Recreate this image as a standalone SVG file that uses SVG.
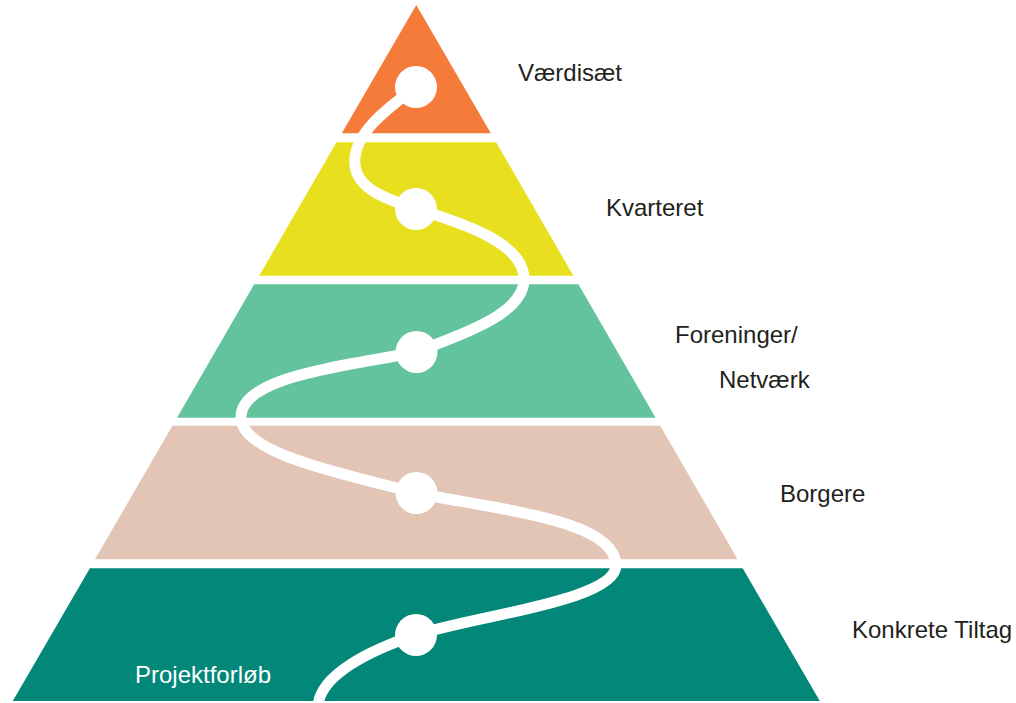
<svg xmlns="http://www.w3.org/2000/svg" width="1016" height="703" viewBox="0 0 1016 703">
<style>
.lbl{font-family:"Liberation Sans",Arial,sans-serif;font-size:24px;fill:#231F20}
.wl{font-family:"Liberation Sans",Arial,sans-serif;font-size:24px;fill:#FFFFFF}
.route{fill:none;stroke:#FFFFFF;stroke-width:11;stroke-linecap:butt}
.dot{fill:#FFFFFF}
</style>
<rect width="1016" height="703" fill="#FFFFFF"/>
<g id="vaerdisaet">
<polygon points="416.3,5 490.8,133.3 341.8,133.3" fill="#F47B3A"/>
<text class="lbl" x="518" y="81">Værdisæt</text>
</g>
<g id="kvarteret">
<polygon points="336.5,142.3 496.1,142.3 573.4,275.7 259.2,275.7" fill="#E8DF1E"/>
<text class="lbl" x="606" y="216">Kvarteret</text>
</g>
<g id="foreninger">
<polygon points="254.2,284.3 578.4,284.3 655.6,417.7 177.0,417.7" fill="#63C39D"/>
<text class="lbl" x="675" y="343">Foreninger/</text>
<text class="lbl" x="719" y="388">Netværk</text>
</g>
<g id="borgere">
<polygon points="172.4,425.7 660.2,425.7 737.6,559.3 95.0,559.3" fill="#E3C5B6"/>
<text class="lbl" x="780" y="502">Borgere</text>
</g>
<g id="konkrete">
<polygon points="89.9,568.3 742.7,568.3 819.8,701 12.8,701" fill="#038778"/>
<text class="lbl" x="852" y="638">Konkrete Tiltag</text>
</g>
<g id="connectors">
<path class="route" d="M416,87 C385,110 352,135 355,165 C357,190 390,200 416,209 C470,225 525,245 524,280 C523,315 460,335 416,352 C350,366 240,375 241,418 C242,455 350,475 416,493 C500,510 615,520 616,565 C617,600 480,615 416,635 C370,650 320,675 318,706"/>
<circle class="dot" cx="416" cy="87" r="21"/>
<circle class="dot" cx="416" cy="209" r="21"/>
<circle class="dot" cx="416.5" cy="352" r="21"/>
<circle class="dot" cx="416.5" cy="493" r="21"/>
<circle class="dot" cx="416" cy="635" r="21"/>
<text class="wl" x="135" y="683">Projektforløb</text>
</g>
</svg>
